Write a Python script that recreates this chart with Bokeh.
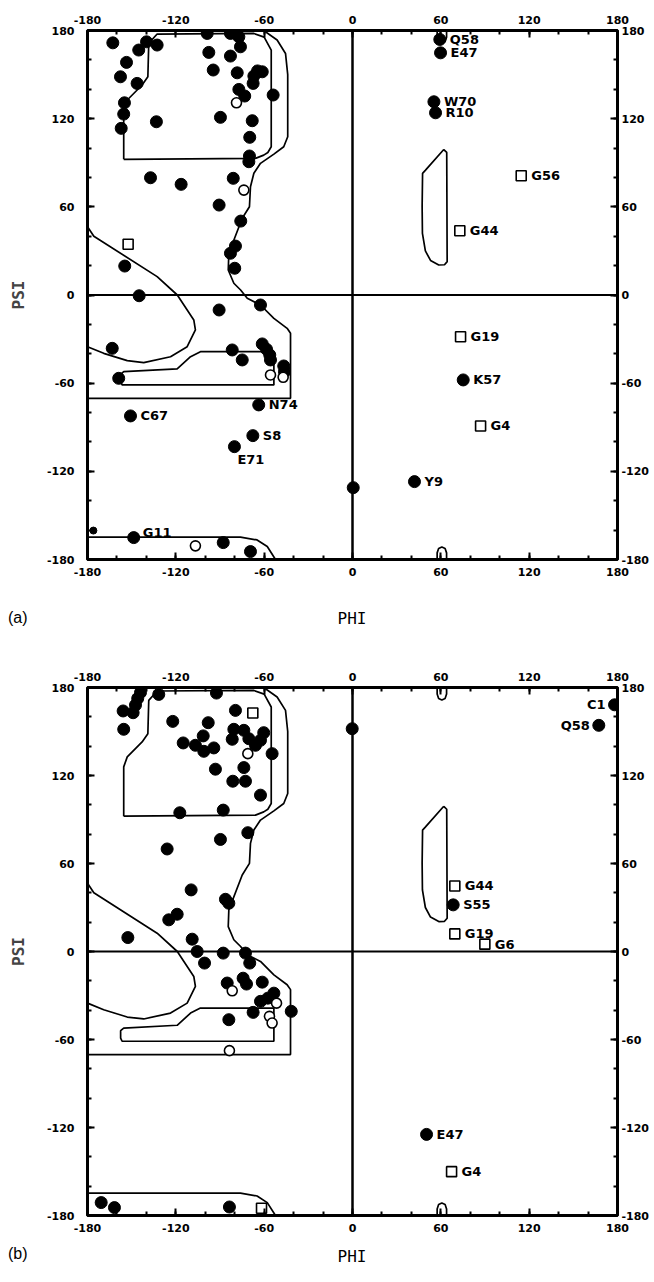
from bokeh.plotting import figure
from bokeh.models import Range1d, LinearAxis, FixedTicker, Span, ColumnDataSource, Div
from bokeh.layouts import column
from bokeh.core.properties import value
from bokeh.embed import file_html
from bokeh.resources import INLINE

# ---------------- contour boundaries (phi, psi) ----------------
beta_core_phi = [-155.4, -155.4, -153.0, -142.9, -139.0, -138.4, -132.7, -67.0, -60.0, -55.2, -55.2, -57.5, -60.3, -65.9, -155.4]
beta_core_psi = [92.3, 125.9, 132.7, 142.9, 148.5, 171.2, 177.6, 178.0, 175.5, 166.7, 100.9, 97.0, 95.2, 93.0, 92.3]

outer_phi = [-60.3, -51.2, -45.5, -44.0, -44.0, -46.7, -53.4, -62.5, -67.0, -69.3, -70.0, -74.9, -84.0, -84.4, -80.6, -76.0, -71.5, -62.5, -53.4, -44.4, -42.1, -42.1, -180.0]
outer_psi = [180.0, 173.5, 164.4, 150.0, 107.7, 100.9, 95.9, 89.6, 82.8, 73.7, 60.1, 52.2, 28.4, 17.0, 8.0, 3.4, -2.2, -6.8, -15.9, -22.7, -26.0, -70.3, -70.3]

lobe_phi = [-180.0, -175.7, -132.7, -119.0, -107.8, -106.7, -112.3, -123.6, -141.8, -153.0, -169.0, -180.0]
lobe_psi = [46.5, 40.0, 12.5, 0.0, -17.0, -23.8, -35.2, -42.0, -46.0, -44.7, -39.7, -35.2]

alpha_core_phi = [-53.4, -103.3, -110.0, -119.1, -155.4, -157.5, -157.5, -156.5, -53.4, -53.4]
alpha_core_psi = [-38.6, -38.6, -42.0, -50.3, -52.2, -54.0, -59.0, -61.2, -61.2, -38.6]

strip_phi = [-180.0, -76.1, -64.8, -57.9, -52.3]
strip_psi = [-164.8, -164.8, -166.7, -171.2, -180.0]

left_alpha_phi = [62.0, 64.0, 64.3, 62.5, 58.6, 53.0, 49.5, 47.5, 47.3, 47.6, 49.6, 62.0]
left_alpha_psi = [99.0, 97.0, 22.7, 20.6, 20.4, 23.5, 30.0, 42.0, 60.0, 82.8, 85.0, 99.0]

arch_top_phi = [57.5, 57.5, 58.5, 60.7, 62.9, 63.9, 63.9]
arch_top_psi = [180.0, 175.5, 172.5, 171.5, 172.5, 175.5, 180.0]
arch_bot_phi = [57.5, 57.5, 58.5, 60.7, 62.9, 63.9, 63.9]
arch_bot_psi = [-180.0, -175.5, -172.5, -171.5, -172.5, -175.5, -180.0]

# ---------------- panel (a) data ----------------
a_filled_phi = [-162.8, -145.2, -139.9, -132.7, -153.5, -157.6, -146.3, -154.9, -155.4, -157.1,
                -133.2, -98.7, -82.9, -77.2, -76.1, -97.6, -82.9, -94.6, -78.3, -67.0,
                -61.3, -67.5, -77.2, -73.2, -53.9, -89.7, -68.1, -69.8, -70.0, -70.4,
                -137.2, -116.4, -81.0, -90.6, -75.9, -79.5, -82.9, -80.0, -154.7, -144.9,
                -62.5, -90.6, -163.2, -158.8, -81.7, -74.9, -61.3, -58.4, -56.2, -55.7,
                -46.7, -46.2, -87.8, -69.3, 0.5, -64.5]
a_filled_psi = [171.6, 166.7, 172.3, 170.1, 158.3, 148.5, 144.0, 130.8, 123.1, 113.4,
                117.9, 178.0, 178.0, 175.7, 168.9, 165.1, 162.6, 153.1, 151.2, 149.0,
                151.9, 144.0, 139.9, 135.4, 136.1, 120.9, 118.6, 107.3, 94.6, 90.7,
                79.8, 75.3, 79.4, 61.2, 50.3, 33.3, 28.4, 18.2, 19.7, -0.5,
                -6.8, -10.2, -36.3, -56.7, -37.4, -44.2, -33.3, -36.9, -40.8, -44.2,
                -48.3, -52.2, -168.5, -174.6, -131.1, 152.5]
a_small_phi = [-176.0]
a_small_psi = [-160.3]
a_open_phi = [-78.8, -73.8, -55.7, -47.1, -106.7]
a_open_psi = [130.8, 71.4, -54.4, -56.0, -170.7]
a_square_phi = [-152.4]
a_square_psi = [34.5]

a_lab_filled_name = ["Q58", "E47", "W70", "R10", "K57", "Y9", "N74", "C67", "S8", "E71", "G11"]
a_lab_filled_phi = [59.3, 59.8, 55.3, 56.4, 75.2, 42.1, -63.7, -150.8, -67.7, -80.2, -148.6]
a_lab_filled_psi = [173.9, 164.8, 131.5, 124.0, -57.8, -127.0, -74.8, -82.3, -95.7, -103.2, -165.1]
a_lab_square_name = ["G56", "G44", "G19", "G4"]
a_lab_square_phi = [114.6, 72.9, 73.4, 87.0]
a_lab_square_psi = [81.2, 43.7, -28.4, -89.1]

# ---------------- panel (b) data ----------------
b_filled_phi = [-155.8, -149.0, -147.4, -145.9, -144.0, -155.4, -131.6, -92.4, -122.1, -98.0,
                -79.5, -115.0, -106.7, -101.4, -101.0, -94.2, -80.6, -73.8, -81.7, -70.4,
                -65.9, -60.3, -62.5, -54.6, -93.1, -73.8, -81.3, -72.7, -62.5, -117.3,
                -87.8, -71.1, -89.7, -125.9, -109.6, -86.3, -84.0, -119.1, -124.8, -152.6,
                -108.9, -105.5, -100.5, -87.8, -72.7, -69.8, -85.1, -74.3, -72.0, -61.3,
                -53.4, -57.5, -62.5, -67.5, -41.6, -84.0, -170.7, -161.7, -83.6, -0.2]
b_filled_psi = [164.0, 162.8, 168.0, 172.5, 176.6, 151.5, 175.3, 176.2, 156.9, 156.0,
                164.4, 142.2, 140.6, 147.0, 136.5, 138.8, 151.5, 150.8, 144.7, 145.1,
                140.6, 149.2, 144.0, 134.9, 124.3, 125.4, 116.1, 116.1, 106.6, 94.6,
                96.4, 81.0, 76.4, 69.9, 42.0, 35.6, 32.9, 25.4, 21.6, 9.5,
                8.4, 0.0, -7.9, -1.1, -1.1, -7.9, -21.5, -18.2, -22.2, -20.9,
                -28.4, -31.8, -34.0, -41.5, -40.8, -46.5, -171.2, -174.6, -174.2, 151.9]
b_open_phi = [-71.1, -81.7, -51.6, -56.4, -54.6, -83.6]
b_open_psi = [134.9, -26.8, -35.2, -44.2, -48.8, -67.6]
b_square_phi = [-67.7, -61.8]
b_square_psi = [162.6, -175.1]

b_lab_filled_name = ["C1", "Q58", "S55", "E47"]
b_lab_filled_phi = [178.0, 167.3, 68.4, 50.3]
b_lab_filled_psi = [168.2, 154.2, 31.8, -124.7]
b_lab_square_name = ["G44", "G19", "G6", "G4"]
b_lab_square_phi = [69.5, 69.5, 89.9, 67.3]
b_lab_square_psi = [44.7, 12.0, 5.0, -150.1]

TICKS = [-180, -120, -60, 0, 60, 120, 180]
MINOR = list(range(-180, 181, 20))

# label offsets (screen px): default to the right of the point
LABEL_OFFSETS = {"E71": (3, 13), "G11": (9, -5), "C1b": (-9, 0), "Q58b": (-9, 0)}
LEFT_LABELS = {"C1b", "Q58b"}

TICK_FONT = "DejaVu Sans"
LAB_FONT = "DejaVu Sans"
FIG_W = 654


def style_axis(ax, standoff):
    ax.ticker = FixedTicker(ticks=TICKS, minor_ticks=MINOR)
    ax.major_label_overrides = {t: str(t) for t in TICKS}
    ax.axis_line_color = None
    ax.major_tick_in = 7
    ax.major_tick_out = 0
    ax.minor_tick_in = 4
    ax.minor_tick_out = 0
    ax.major_tick_line_width = 2
    ax.minor_tick_line_width = 2
    ax.major_label_text_font = TICK_FONT
    ax.major_label_text_font_style = "bold"
    ax.major_label_text_font_size = "11px"
    ax.major_label_text_color = "black"
    ax.major_label_standoff = standoff


def make_panel(height, top, filled, opened, squares, lab_filled, lab_squares, small=None, key_suffix=""):
    p = figure(width=FIG_W, height=height, x_range=Range1d(-180, 180), y_range=Range1d(-180, 180),
               output_backend="svg", toolbar_location=None,
               min_border_left=87, min_border_right=37, min_border_top=top, min_border_bottom=24)
    p.xgrid.visible = False
    p.ygrid.visible = False
    p.outline_line_color = "black"
    p.outline_line_width = 3
    p.outline_line_alpha = 1
    p.background_fill_color = "white"
    p.border_fill_color = "white"
    bottom_ax = p.below[0]
    left_ax = p.left[0]
    style_axis(bottom_ax, 8)
    style_axis(left_ax, 13)
    top_ax = LinearAxis()
    style_axis(top_ax, 7)
    right_ax = LinearAxis()
    style_axis(right_ax, 4)
    p.add_layout(top_ax, "above")
    p.add_layout(right_ax, "right")

    left_ax.axis_label = "PSI"
    left_ax.axis_label_text_font = "DejaVu Sans Mono"
    left_ax.axis_label_text_font_style = "bold"
    left_ax.axis_label_text_font_size = "16px"
    left_ax.axis_label_standoff = 16

    # allowed-region contours
    lw = 1.7
    for xs, ys in [(beta_core_phi, beta_core_psi), (outer_phi, outer_psi), (lobe_phi, lobe_psi),
                   (alpha_core_phi, alpha_core_psi), (strip_phi, strip_psi),
                   (left_alpha_phi, left_alpha_psi), (arch_top_phi, arch_top_psi),
                   (arch_bot_phi, arch_bot_psi)]:
        p.line(xs, ys, line_color="black", line_width=lw)

    p.add_layout(Span(location=0, dimension="height", line_color="black", line_width=2.5))
    p.add_layout(Span(location=0, dimension="width", line_color="black", line_width=2))

    # points
    p.scatter(filled[0], filled[1], marker="circle", size=12, fill_color="black", line_color="black")
    if small is not None:
        p.scatter(small[0], small[1], marker="circle", size=7, fill_color="black", line_color="black")
    p.scatter(opened[0], opened[1], marker="circle", size=10, fill_color="white",
              line_color="black", line_width=1.6)
    p.scatter(squares[0], squares[1], marker="square", size=10, fill_color="white",
              line_color="black", line_width=1.6)
    p.scatter(lab_filled[1], lab_filled[2], marker="circle", size=12, fill_color="black", line_color="black")
    p.scatter(lab_squares[1], lab_squares[2], marker="square", size=10, fill_color="white",
              line_color="black", line_width=1.6)

    # point labels
    rows = {"right": dict(x=[], y=[], t=[], dx=[], dy=[]), "left": dict(x=[], y=[], t=[], dx=[], dy=[])}
    for names, xs, ys in [lab_filled, lab_squares]:
        for n, x, y in zip(names, xs, ys):
            key = n + key_suffix if (n + key_suffix) in LABEL_OFFSETS else n
            dx, dy = LABEL_OFFSETS.get(key, (10, 0))
            align = "right" if key in LEFT_LABELS else "left"
            r = rows[align]
            r["x"].append(x); r["y"].append(y); r["t"].append(n); r["dx"].append(dx); r["dy"].append(dy)
    for align, r in rows.items():
        if not r["t"]:
            continue
        src = ColumnDataSource(r)
        p.text(x="x", y="y", text="t", x_offset="dx", y_offset="dy", source=src,
               text_font=value(LAB_FONT), text_font_style="bold", text_font_size="13px",
               text_color="black", text_baseline="middle", text_align=align)
    return p


def caption(tag, height, tag_top, phi_top):
    html = (
        f'<div style="position:relative;width:{FIG_W}px;height:{height}px;">'
        f'<span style="position:absolute;left:8px;top:{tag_top}px;font-family:\'Liberation Sans\';'
        f'font-size:16px;line-height:20px;color:black;">{tag}</span>'
        f'<span style="position:absolute;left:322px;width:60px;text-align:center;top:{phi_top}px;'
        f'font-family:\'DejaVu Sans Mono\';font-size:16px;line-height:20px;color:black;">PHI</span>'
        f'</div>'
    )
    return Div(text=html, width=FIG_W, height=height, margin=0)


pa = make_panel(583, 30,
                (a_filled_phi, a_filled_psi), (a_open_phi, a_open_psi), (a_square_phi, a_square_psi),
                (a_lab_filled_name, a_lab_filled_phi, a_lab_filled_psi),
                (a_lab_square_name, a_lab_square_phi, a_lab_square_psi),
                small=(a_small_phi, a_small_psi))
cap_a = caption("(a)", 65, 25, 26)
pb = make_panel(591, 39,
                (b_filled_phi, b_filled_psi), (b_open_phi, b_open_psi), (b_square_phi, b_square_psi),
                (b_lab_filled_name, b_lab_filled_phi, b_lab_filled_psi),
                (b_lab_square_name, b_lab_square_phi, b_lab_square_psi), key_suffix="b")
cap_b = caption("(b)", 43, 5, 8)

layout = column(pa, cap_a, pb, cap_b, spacing=0)
open("out.html", "w").write(file_html(layout, INLINE))
